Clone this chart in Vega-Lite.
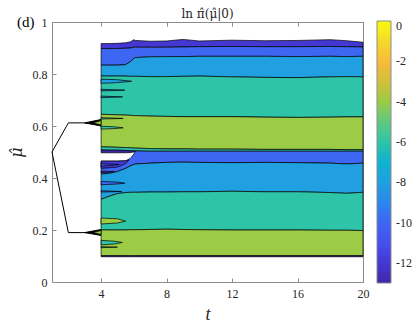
{
  "$schema": "https://vega.github.io/schema/vega-lite/v6.json",
  "autosize": "none",
  "padding": {"left": 52, "top": 22, "right": 52, "bottom": 48},
  "width": 311,
  "height": 260,
  "title": {"text": "ln π̂(μ̂|0)", "font": "DejaVu Serif", "fontSize": 12, "fontWeight": "normal", "color": "#262626", "offset": -6, "anchor": "middle"},
  "datasets": {
    "curves": [
      {"t": 4, "BT": 0.917, "B1": 0.898, "B2": 0.834, "B3": 0.792, "B4": 0.645, "B5": 0.52, "B6": 0.508, "NT": 0.497, "B7": 0.465, "B8": 0.415, "B9": 0.318, "B10": 0.2, "B11": 0.101, "B12": 0.097},
      {"t": 4.5, "BT": 0.917, "B1": 0.898, "B2": 0.834, "B3": 0.792, "B4": 0.644, "B5": 0.519, "B6": 0.507, "NT": 0.497, "B7": 0.465, "B8": 0.418, "B9": 0.33, "B10": 0.2, "B11": 0.101, "B12": 0.097},
      {"t": 5, "BT": 0.918, "B1": 0.898, "B2": 0.834, "B3": 0.792, "B4": 0.643, "B5": 0.518, "B6": 0.507, "NT": 0.497, "B7": 0.465, "B8": 0.425, "B9": 0.34, "B10": 0.2, "B11": 0.101, "B12": 0.097},
      {"t": 5.5, "BT": 0.92, "B1": 0.899, "B2": 0.836, "B3": 0.792, "B4": 0.642, "B5": 0.517, "B6": 0.506, "NT": 0.497, "B7": 0.466, "B8": 0.437, "B9": 0.344, "B10": 0.2, "B11": 0.101, "B12": 0.097},
      {"t": 5.8, "BT": 0.924, "B1": 0.9, "B2": 0.848, "B3": 0.791, "B4": 0.641, "B5": 0.516, "B6": 0.505, "NT": 0.498, "B7": 0.476, "B8": 0.447, "B9": 0.345, "B10": 0.201, "B11": 0.101, "B12": 0.097},
      {"t": 6, "BT": 0.932, "B1": 0.903, "B2": 0.86, "B3": 0.791, "B4": 0.64, "B5": 0.515, "B6": 0.504, "NT": 0.5, "B7": 0.492, "B8": 0.452, "B9": 0.345, "B10": 0.201, "B11": 0.101, "B12": 0.097},
      {"t": 6.1, "BT": 0.929, "B1": 0.903, "B2": 0.863, "B3": 0.791, "B4": 0.64, "B5": 0.515, "B6": 0.504, "NT": 0.504, "B7": 0.504, "B8": 0.454, "B9": 0.345, "B10": 0.201, "B11": 0.101, "B12": 0.097},
      {"t": 7, "BT": 0.926, "B1": 0.903, "B2": 0.866, "B3": 0.79, "B4": 0.638, "B5": 0.513, "B6": 0.503, "B7": 0.503, "B8": 0.457, "B9": 0.346, "B10": 0.202, "B11": 0.101, "B12": 0.097},
      {"t": 8, "BT": 0.927, "B1": 0.903, "B2": 0.867, "B3": 0.79, "B4": 0.637, "B5": 0.512, "B6": 0.503, "B7": 0.503, "B8": 0.46, "B9": 0.346, "B10": 0.203, "B11": 0.101, "B12": 0.097},
      {"t": 9, "BT": 0.933, "B1": 0.904, "B2": 0.867, "B3": 0.791, "B4": 0.636, "B5": 0.512, "B6": 0.503, "B7": 0.503, "B8": 0.461, "B9": 0.347, "B10": 0.202, "B11": 0.101, "B12": 0.097},
      {"t": 10, "BT": 0.927, "B1": 0.905, "B2": 0.868, "B3": 0.792, "B4": 0.636, "B5": 0.511, "B6": 0.503, "B7": 0.503, "B8": 0.46, "B9": 0.347, "B10": 0.201, "B11": 0.101, "B12": 0.097},
      {"t": 12, "BT": 0.93, "B1": 0.906, "B2": 0.868, "B3": 0.789, "B4": 0.636, "B5": 0.511, "B6": 0.503, "B7": 0.503, "B8": 0.459, "B9": 0.349, "B10": 0.2, "B11": 0.101, "B12": 0.097},
      {"t": 14, "BT": 0.928, "B1": 0.905, "B2": 0.868, "B3": 0.787, "B4": 0.634, "B5": 0.51, "B6": 0.503, "B7": 0.503, "B8": 0.46, "B9": 0.347, "B10": 0.2, "B11": 0.101, "B12": 0.097},
      {"t": 16, "BT": 0.929, "B1": 0.905, "B2": 0.867, "B3": 0.786, "B4": 0.633, "B5": 0.51, "B6": 0.503, "B7": 0.503, "B8": 0.459, "B9": 0.347, "B10": 0.2, "B11": 0.101, "B12": 0.097},
      {"t": 18, "BT": 0.932, "B1": 0.906, "B2": 0.868, "B3": 0.789, "B4": 0.634, "B5": 0.51, "B6": 0.503, "B7": 0.503, "B8": 0.457, "B9": 0.344, "B10": 0.199, "B11": 0.101, "B12": 0.097},
      {"t": 19, "BT": 0.928, "B1": 0.905, "B2": 0.867, "B3": 0.79, "B4": 0.635, "B5": 0.509, "B6": 0.503, "B7": 0.503, "B8": 0.454, "B9": 0.341, "B10": 0.199, "B11": 0.101, "B12": 0.097},
      {"t": 20, "BT": 0.922, "B1": 0.904, "B2": 0.868, "B3": 0.789, "B4": 0.635, "B5": 0.509, "B6": 0.503, "B7": 0.503, "B8": 0.457, "B9": 0.345, "B10": 0.198, "B11": 0.101, "B12": 0.097}
    ],
    "fingers": [
      {"f": "f1", "v": -8, "t": 4, "lo": 0.764, "hi": 0.78},
      {"f": "f1", "v": -8, "t": 5, "lo": 0.767, "hi": 0.778},
      {"f": "f1", "v": -8, "t": 5.86, "lo": 0.772, "hi": 0.772},
      {"f": "f2", "v": -8, "t": 4, "lo": 0.735, "hi": 0.741},
      {"f": "f2", "v": -8, "t": 5.45, "lo": 0.738, "hi": 0.738},
      {"f": "f3", "v": -8, "t": 4, "lo": 0.709, "hi": 0.715},
      {"f": "f3", "v": -8, "t": 5.31, "lo": 0.712, "hi": 0.712},
      {"f": "f4", "v": -6, "t": 4, "lo": 0.627, "hi": 0.632},
      {"f": "f4", "v": -6, "t": 5.35, "lo": 0.629, "hi": 0.629},
      {"f": "f5", "v": -6, "t": 4, "lo": 0.588, "hi": 0.599},
      {"f": "f5", "v": -6, "t": 4.8, "lo": 0.59, "hi": 0.597},
      {"f": "f5", "v": -6, "t": 5.35, "lo": 0.593, "hi": 0.593},
      {"f": "su", "v": -4, "t": 3.5, "lo": 0.612, "hi": 0.612},
      {"f": "su", "v": -4, "t": 4, "lo": 0.604, "hi": 0.621},
      {"f": "sl", "v": -4, "t": 3.5, "lo": 0.19, "hi": 0.19},
      {"f": "sl", "v": -4, "t": 4, "lo": 0.183, "hi": 0.198},
      {"f": "g1", "v": -12, "t": 4, "lo": 0.437, "hi": 0.465},
      {"f": "g1", "v": -12, "t": 5, "lo": 0.442, "hi": 0.465},
      {"f": "g1", "v": -12, "t": 5.5, "lo": 0.455, "hi": 0.466},
      {"f": "g1", "v": -12, "t": 5.7, "lo": 0.469, "hi": 0.469},
      {"f": "g2", "v": -11, "t": 4, "lo": 0.445, "hi": 0.455},
      {"f": "g2", "v": -11, "t": 5.1, "lo": 0.452, "hi": 0.452},
      {"f": "g3", "v": -12, "t": 4, "lo": 0.42, "hi": 0.427},
      {"f": "g3", "v": -12, "t": 4.8, "lo": 0.424, "hi": 0.424},
      {"f": "g4", "v": -10, "t": 4, "lo": 0.374, "hi": 0.387},
      {"f": "g4", "v": -10, "t": 5, "lo": 0.377, "hi": 0.384},
      {"f": "g4", "v": -10, "t": 5.45, "lo": 0.38, "hi": 0.38},
      {"f": "g5", "v": -10, "t": 4, "lo": 0.346, "hi": 0.351},
      {"f": "g5", "v": -10, "t": 5.25, "lo": 0.348, "hi": 0.348},
      {"f": "g6", "v": -4, "t": 4, "lo": 0.223, "hi": 0.246},
      {"f": "g6", "v": -4, "t": 5, "lo": 0.227, "hi": 0.243},
      {"f": "g6", "v": -4, "t": 5.5, "lo": 0.234, "hi": 0.234},
      {"f": "g7", "v": -6, "t": 4, "lo": 0.143, "hi": 0.16},
      {"f": "g7", "v": -6, "t": 4.8, "lo": 0.146, "hi": 0.157},
      {"f": "g7", "v": -6, "t": 5.3, "lo": 0.152, "hi": 0.152},
      {"f": "g8", "v": -6, "t": 4, "lo": 0.132, "hi": 0.136},
      {"f": "g8", "v": -6, "t": 5, "lo": 0.134, "hi": 0.134}
    ],
    "spikes": [
      {"s": "u", "t": 3.0, "lo": 0.612, "hi": 0.612},
      {"s": "u", "t": 4, "lo": 0.6, "hi": 0.625},
      {"s": "l", "t": 3.0, "lo": 0.19, "hi": 0.19},
      {"s": "l", "t": 4, "lo": 0.179, "hi": 0.202}
    ],
    "paths": [
      {"g": "u", "t": 1, "mu": 0.5},
      {"g": "u", "t": 2, "mu": 0.612},
      {"g": "u", "t": 3.2, "mu": 0.612},
      {"g": "l", "t": 1, "mu": 0.5},
      {"g": "l", "t": 2, "mu": 0.19},
      {"g": "l", "t": 3.2, "mu": 0.19}
    ]
  },
  "resolve": {"axis": {"x": "independent", "y": "independent"}},
  "layer": [
    {
      "data": {"name": "spikes"},
      "mark": {"type": "area", "color": "black", "stroke": "black"},
      "encoding": {
        "x": {"field": "t", "type": "quantitative", "scale": {"domain": [1, 20], "nice": false, "zero": false}, "axis": null},
        "y": {"field": "lo", "type": "quantitative", "scale": {"domain": [0, 1], "nice": false}, "axis": null},
        "y2": {"field": "hi"},
        "detail": {"field": "s"}
      }
    },
    {
      "data": {"name": "paths"},
      "mark": {"type": "line", "color": "black", "strokeWidth": 1},
      "encoding": {
        "x": {"field": "t", "type": "quantitative", "scale": {"domain": [1, 20], "nice": false, "zero": false},
          "axis": {"orient": "bottom", "values": [4, 8, 12, 16, 20], "format": "d", "title": "t", "titleFont": "Liberation Serif", "titleFontStyle": "italic", "titleFontWeight": "normal", "titleFontSize": 18, "titleColor": "#262626", "titlePadding": 6, "labelFont": "Liberation Serif", "labelFontSize": 12, "labelColor": "#262626", "labelPadding": 10, "labelFlush": false, "tickSize": -4, "tickColor": "#8c8c8c", "domainColor": "#8c8c8c", "grid": false}},
        "y": {"field": "mu", "type": "quantitative", "scale": {"domain": [0, 1], "nice": false},
          "axis": {"orient": "left", "values": [0, 0.2, 0.4, 0.6, 0.8, 1], "format": "~g", "title": "μ̂", "titleFont": "DejaVu Serif", "titleFontStyle": "italic", "titleFontWeight": "normal", "titleFontSize": 16, "titleColor": "#262626", "titlePadding": 8, "labelFont": "Liberation Serif", "labelFontSize": 12, "labelColor": "#262626", "labelPadding": 9, "labelFlush": false, "tickSize": -4, "tickColor": "#8c8c8c", "domainColor": "#8c8c8c", "grid": false}},
        "detail": {"field": "g"}
      }
    },
    {
      "data": {"name": "paths"},
      "mark": {"type": "point", "opacity": 0},
      "encoding": {
        "x": {"field": "t", "type": "quantitative", "scale": {"domain": [1, 20], "nice": false, "zero": false},
          "axis": {"orient": "top", "values": [4, 8, 12, 16, 20], "labels": false, "title": null, "tickSize": -4, "tickColor": "#8c8c8c", "domainColor": "#8c8c8c", "grid": false}},
        "y": {"field": "mu", "type": "quantitative", "scale": {"domain": [0, 1], "nice": false},
          "axis": {"orient": "right", "values": [0, 0.2, 0.4, 0.6, 0.8, 1], "labels": false, "title": null, "tickSize": -4, "tickColor": "#8c8c8c", "domainColor": "#8c8c8c", "grid": false}}
      }
    },
    {"data": {"name": "curves"}, "mark": {"type": "area", "stroke": "black", "strokeWidth": 0.7},
     "encoding": {"x": {"field": "t", "type": "quantitative", "axis": null}, "y": {"field": "B1", "type": "quantitative", "axis": null}, "y2": {"field": "BT"}, "color": {"datum": -12, "type": "quantitative"}}},
    {"data": {"name": "curves"}, "mark": {"type": "area", "stroke": "black", "strokeWidth": 0.7},
     "encoding": {"x": {"field": "t", "type": "quantitative", "axis": null}, "y": {"field": "B2", "type": "quantitative", "axis": null}, "y2": {"field": "B1"}, "color": {"datum": -10, "type": "quantitative"}}},
    {"data": {"name": "curves"}, "mark": {"type": "area", "stroke": "black", "strokeWidth": 0.7},
     "encoding": {"x": {"field": "t", "type": "quantitative", "axis": null}, "y": {"field": "B3", "type": "quantitative", "axis": null}, "y2": {"field": "B2"}, "color": {"datum": -8, "type": "quantitative"}}},
    {"data": {"name": "curves"}, "mark": {"type": "area", "stroke": "black", "strokeWidth": 0.7},
     "encoding": {"x": {"field": "t", "type": "quantitative", "axis": null}, "y": {"field": "B4", "type": "quantitative", "axis": null}, "y2": {"field": "B3"}, "color": {"datum": -6, "type": "quantitative"}}},
    {"data": {"name": "curves"}, "mark": {"type": "area", "stroke": "black", "strokeWidth": 0.7},
     "encoding": {"x": {"field": "t", "type": "quantitative", "axis": null}, "y": {"field": "B5", "type": "quantitative", "axis": null}, "y2": {"field": "B4"}, "color": {"datum": -4, "type": "quantitative"}}},
    {"data": {"name": "curves"}, "mark": {"type": "area", "stroke": "black", "strokeWidth": 0.7},
     "encoding": {"x": {"field": "t", "type": "quantitative", "axis": null}, "y": {"field": "B6", "type": "quantitative", "axis": null}, "y2": {"field": "B5"}, "color": {"datum": -6, "type": "quantitative"}}},
    {"data": {"name": "curves"}, "mark": {"type": "area", "stroke": "black", "strokeWidth": 0.7},
     "encoding": {"x": {"field": "t", "type": "quantitative", "axis": null}, "y": {"field": "NT", "type": "quantitative", "axis": null}, "y2": {"field": "B6"}, "color": {"datum": -13, "type": "quantitative"}}},
    {"data": {"name": "curves"}, "mark": {"type": "area", "stroke": "black", "strokeWidth": 0.7},
     "encoding": {"x": {"field": "t", "type": "quantitative", "axis": null}, "y": {"field": "B8", "type": "quantitative", "axis": null}, "y2": {"field": "B7"}, "color": {"datum": -10, "type": "quantitative"}}},
    {"data": {"name": "curves"}, "mark": {"type": "area", "stroke": "black", "strokeWidth": 0.7},
     "encoding": {"x": {"field": "t", "type": "quantitative", "axis": null}, "y": {"field": "B9", "type": "quantitative", "axis": null}, "y2": {"field": "B8"}, "color": {"datum": -8, "type": "quantitative"}}},
    {"data": {"name": "curves"}, "mark": {"type": "area", "stroke": "black", "strokeWidth": 0.7},
     "encoding": {"x": {"field": "t", "type": "quantitative", "axis": null}, "y": {"field": "B10", "type": "quantitative", "axis": null}, "y2": {"field": "B9"}, "color": {"datum": -6, "type": "quantitative"}}},
    {"data": {"name": "curves"}, "mark": {"type": "area", "stroke": "black", "strokeWidth": 0.7},
     "encoding": {"x": {"field": "t", "type": "quantitative", "axis": null}, "y": {"field": "B11", "type": "quantitative", "axis": null}, "y2": {"field": "B10"}, "color": {"datum": -4, "type": "quantitative"}}},
    {"data": {"name": "curves"}, "mark": {"type": "area", "stroke": "black", "strokeWidth": 0.7},
     "encoding": {"x": {"field": "t", "type": "quantitative", "axis": null}, "y": {"field": "B12", "type": "quantitative", "axis": null}, "y2": {"field": "B11"}, "color": {"datum": -13, "type": "quantitative"}}},
    {
      "data": {"name": "fingers"},
      "mark": {"type": "area", "stroke": "black", "strokeWidth": 0.7},
      "encoding": {
        "x": {"field": "t", "type": "quantitative", "axis": null},
        "y": {"field": "lo", "type": "quantitative", "axis": null},
        "y2": {"field": "hi"},
        "detail": {"field": "f"},
        "color": {
          "field": "v", "type": "quantitative",
          "scale": {
            "domain": [-13, -12, -11, -10, -9, -8, -7, -6, -5, -4, -3, -2, -1, 0],
            "range": ["#3E26A8", "#4538D2", "#4550EE", "#3D66F2", "#2D87EC", "#20A0E0", "#0EB3CF", "#2EC4A7", "#60C882", "#9CCB45", "#D2BF3C", "#F8BA3C", "#F4D92A", "#F9FB0E"]
          },
          "legend": {"orient": "none", "legendX": 325, "legendY": -1, "direction": "vertical", "gradientLength": 262, "gradientThickness": 14, "title": null, "values": [0, -2, -4, -6, -8, -10, -12], "labelExpr": "'' + datum.value", "labelFont": "Liberation Serif", "labelFontSize": 12, "labelColor": "#262626", "labelBaseline": "middle", "labelOffset": 5, "labelOverlap": false, "gradientStrokeColor": "#8c8c8c", "gradientStrokeWidth": 1}
        }
      }
    },
    {
      "data": {"values": [{}]},
      "mark": {"type": "text", "text": "(d)", "font": "Liberation Serif", "fontSize": 15, "color": "#000", "align": "center", "baseline": "middle"},
      "encoding": {
        "x": {"datum": -0.6, "type": "quantitative", "axis": null},
        "y": {"datum": 1.0, "type": "quantitative", "axis": null}
      }
    }
  ],
  "config": {"view": {"stroke": null}}
}
